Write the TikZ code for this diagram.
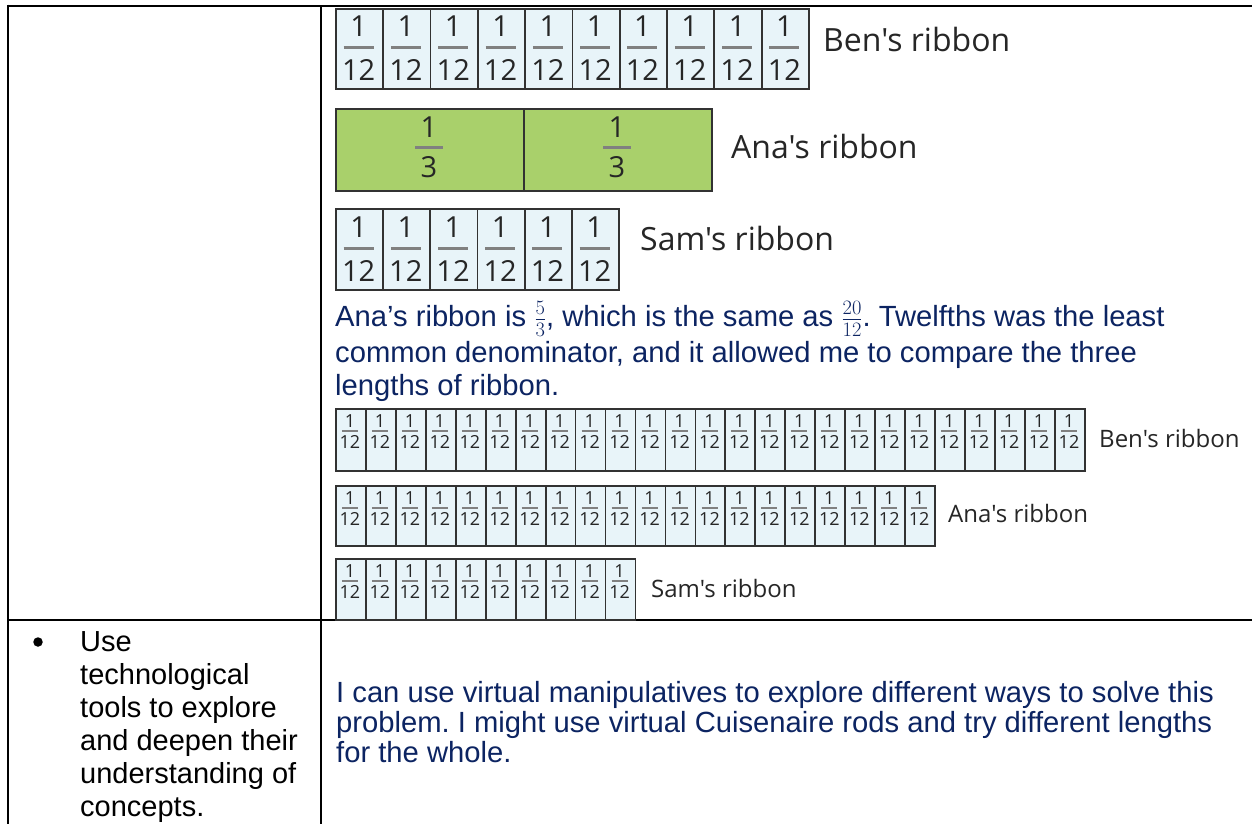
\RequirePackage{fix-cm}
\documentclass[tikz,border=0pt]{standalone}
\usepackage{fontspec}
\setmainfont{Liberation Sans}
\newfontfamily\ribfont{Open Sans}
\frenchspacing
\definecolor{txtblue}{RGB}{12,36,98}
\definecolor{cellblue}{RGB}{232,244,249}
\definecolor{cellgreen}{RGB}{169,208,107}
\definecolor{cellborder}{RGB}{50,50,50}
\definecolor{bargray}{RGB}{128,128,128}
\definecolor{labelgray}{RGB}{38,38,38}
\tikzset{
  tabline/.style={line width=2.5pt, black},
  cellbox/.style={draw=cellborder, line width=1.8pt, inner sep=0pt, anchor=north west, minimum height=#1},
  bignum/.style={anchor=base, inner sep=0pt, text=labelgray, font=\ribfont\fontsize{29}{29}\selectfont},
  smallnum/.style={anchor=base, inner sep=0pt, text=labelgray, font=\ribfont\fontsize{18}{18}\selectfont},
  bigbar/.style={bargray, line width=3pt},
  smallbar/.style={bargray, line width=2pt},
  biglabel/.style={anchor=base west, inner sep=0pt, text=labelgray, font=\ribfont\fontsize{32}{32}\selectfont},
  smalllabel/.style={anchor=base west, inner sep=0pt, text=labelgray, font=\ribfont\fontsize{24}{24}\selectfont},
  bluetxt/.style={anchor=base west, inner sep=0pt, text=txtblue, font=\fontsize{29.2}{33}\selectfont},
  blacktxt/.style={anchor=base west, inner sep=0pt, text=black, font=\fontsize{29}{33}\selectfont},
  bulletdot/.style={circle, fill=black, inner sep=0pt, minimum size=9.5pt},
}
\begin{document}
\begin{tikzpicture}[x=1pt,y=-1pt]
\useasboundingbox (0,0) rectangle (1252,824);
\fill[white] (0,0) rectangle (1252,824);
% table
\draw[tabline] (8,6) -- (1252,6);
\draw[tabline] (8,4.75) -- (8,824);
\draw[tabline] (321,6) -- (321,824);
\draw[tabline] (8,620) -- (1252,620);

% ---------- large ribbons ----------
% Ben (10 twelfths)
\foreach \i in {1,...,10}{
  \pgfmathsetmacro\xl{335+(\i-1)*47.3}
  \pgfmathsetmacro\cx{\xl+23.65}
  \node[cellbox=80, fill=cellblue, minimum width=47.3] (benA\i) at (\xl,8) {};
  \node[bignum] (benAn\i) at (\cx,37) {1};
  \draw[bigbar] (\cx-15,48) -- (\cx+15,48);
  \node[bignum] (benAd\i) at (\cx,81) {12};
}
\node[biglabel] (benAlab) at (823,52) {Ben's ribbon};
% Ana (2 thirds)
\foreach \i in {1,2}{
  \pgfmathsetmacro\xl{335+(\i-1)*188}
  \pgfmathsetmacro\cx{\xl+94}
  \node[cellbox=82, fill=cellgreen, minimum width=188] (anaA\i) at (\xl,108) {};
  \node[bignum] (anaAn\i) at (\cx,137) {1};
  \draw[bigbar] (\cx-14,147) -- (\cx+14,147);
  \node[bignum] (anaAd\i) at (\cx,177) {3};
}
\node[biglabel] (anaAlab) at (731,158) {Ana's ribbon};
% Sam (6 twelfths)
\foreach \i in {1,...,6}{
  \pgfmathsetmacro\xl{335+(\i-1)*47.2}
  \pgfmathsetmacro\cx{\xl+23.6}
  \node[cellbox=81, fill=cellblue, minimum width=47.2] (samA\i) at (\xl,208) {};
  \node[bignum] (samAn\i) at (\cx,237) {1};
  \draw[bigbar] (\cx-15,248) -- (\cx+15,248);
  \node[bignum] (samAd\i) at (\cx,281) {12};
}
\node[biglabel] (samAlab) at (640,250) {Sam's ribbon};

% ---------- explanation ----------
\node[bluetxt] (exp1) at (335,326) {Ana’s ribbon is $\frac{5}{3}$, which is the same as $\frac{20}{12}$. Twelfths was the least};
\node[bluetxt] (exp2) at (335,362) {common denominator, and it allowed me to compare the three};
\node[bluetxt] (exp3) at (335,395) {lengths of ribbon.};

% ---------- small ribbons ----------
\foreach \r/\n/\t/\h in {benB/25/408/62, anaB/20/485/60, samB/10/558/61}{
  \foreach \i in {1,...,\n}{
    \pgfmathsetmacro\xl{335+(\i-1)*29.96}
    \pgfmathsetmacro\cx{\xl+14.98}
    \node[cellbox=\h, fill=cellblue, minimum width=29.96] (\r\i) at (\xl,\t) {};
    \node[smallnum] (\r n\i) at (\cx,\t+19) {1};
    \draw[smallbar] (\cx-8,\t+23) -- (\cx+8,\t+23);
    \node[smallnum] (\r d\i) at (\cx,\t+40) {12};
  }
}
\node[smalllabel] (benBlab) at (1099,447) {Ben's ribbon};
\node[smalllabel] (anaBlab) at (948,522) {Ana's ribbon};
\node[smalllabel] (samBlab) at (651,597) {Sam's ribbon};

% ---------- second row ----------
\node[bulletdot] (bullet) at (38,642) {};
\node[blacktxt] (l1) at (80,651) {Use};
\node[blacktxt] (l2) at (80,684) {technological};
\node[blacktxt] (l3) at (80,717) {tools to explore};
\node[blacktxt] (l4) at (80,750) {and deepen their};
\node[blacktxt] (l5) at (80,783) {understanding of};
\node[blacktxt] (l6) at (80,816) {concepts.};

\node[bluetxt] (b1) at (336,702) {I can use virtual manipulatives to explore different ways to solve this};
\node[bluetxt] (b2) at (336,732) {problem. I might use virtual Cuisenaire rods and try different lengths};
\node[bluetxt] (b3) at (336,762) {for the whole.};
\end{tikzpicture}
\end{document}
